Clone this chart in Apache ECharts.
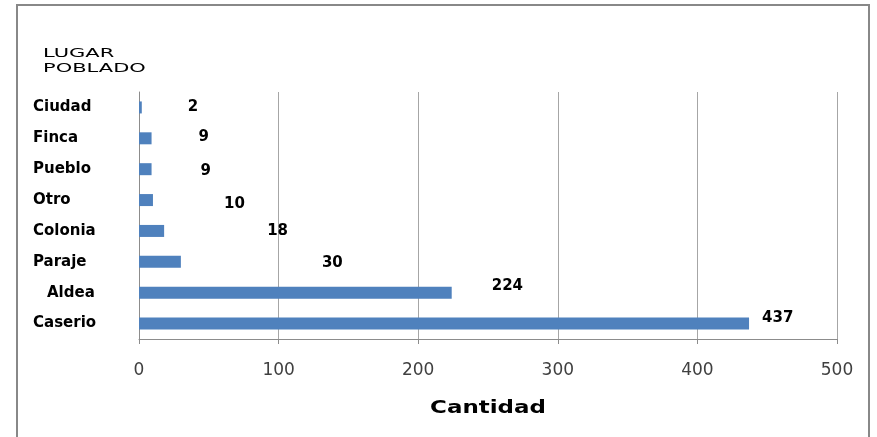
<!DOCTYPE html>
<html>
<head>
<meta charset="utf-8">
<script src="https://cdn.jsdelivr.net/npm/echarts@6/dist/echarts.min.js"></script>
<style>html,body{margin:0;padding:0;background:#fff}#c{width:877px;height:437px}</style>
</head>
<body>
<div id="c"></div>
<script>
var categories = ['Caserio', 'Aldea', 'Paraje', 'Colonia', 'Otro', 'Pueblo', 'Finca', 'Ciudad'];
var values = [437, 224, 30, 18, 10, 9, 9, 2];
var xTicks = [0, 100, 200, 300, 400, 500];
var titleText = 'LUGAR\nPOBLADO';
var axisTitle = 'Cantidad';
// label offsets relative to the bar end, as in the reference
var labelOffsets = [[13, -5], [40, -7], [141, 1], [103, 0], [71, 4], [49, 2], [47, -1], [46, 0]];

var chart = echarts.init(document.getElementById('c'));
var seriesData = values.map(function (v, i) {
  return { value: v, label: { offset: labelOffsets[i] } };
});
chart.setOption({
  animation: false,
  graphic: [{
    type: 'rect', shape: { x: 17, y: 5, width: 852, height: 445 },
    style: { fill: 'none', stroke: '#888', lineWidth: 2 }, silent: true
  }, {
    type: 'text', x: 43, y: 46, scaleX: 1.75, silent: true,
    style: { text: titleText, font: 'normal 12px "DejaVu Sans"', fill: '#000', lineHeight: 15 }
  }, {
    type: 'text', x: 488, y: 409, scaleX: 1.35, silent: true,
    style: { text: axisTitle, font: 'bold 17px "DejaVu Sans"', fill: '#000', align: 'center', verticalAlign: 'middle' }
  }],
  grid: { left: 139, right: 40, top: 92, bottom: 98, containLabel: false },
  xAxis: {
    type: 'value', min: xTicks[0], max: xTicks[xTicks.length - 1], interval: 100,
    axisLine: { show: true, lineStyle: { color: '#8c8c8c', width: 1 } },
    axisTick: { show: true, length: 5, lineStyle: { color: '#8c8c8c' } },
    axisLabel: { margin: 23, fontFamily: 'DejaVu Sans', fontSize: 17, color: '#404040' },
    splitLine: { show: true, lineStyle: { color: '#a6a6a6', width: 1 } }
  },
  yAxis: {
    type: 'category', data: categories,
    axisLine: { show: true, lineStyle: { color: '#8c8c8c' } },
    axisTick: { show: false },
    axisLabel: {
      align: 'left', margin: 106, fontFamily: 'DejaVu Sans', fontSize: 15, fontWeight: 'bold', color: '#000',
      formatter: function (v) { return v === 'Aldea' ? '{p|' + v + '}' : v; },
      rich: { p: { padding: [0, 0, 0, 14], fontFamily: 'DejaVu Sans', fontSize: 15, fontWeight: 'bold', color: '#000' } }
    }
  },
  series: [{
    type: 'bar', data: seriesData, barWidth: 12,
    itemStyle: { color: '#4f81bd' },
    label: {
      show: true, position: 'right', distance: 0,
      fontFamily: 'DejaVu Sans', fontSize: 15, fontWeight: 'bold', color: '#000'
    }
  }]
});
</script>
</body>
</html>
